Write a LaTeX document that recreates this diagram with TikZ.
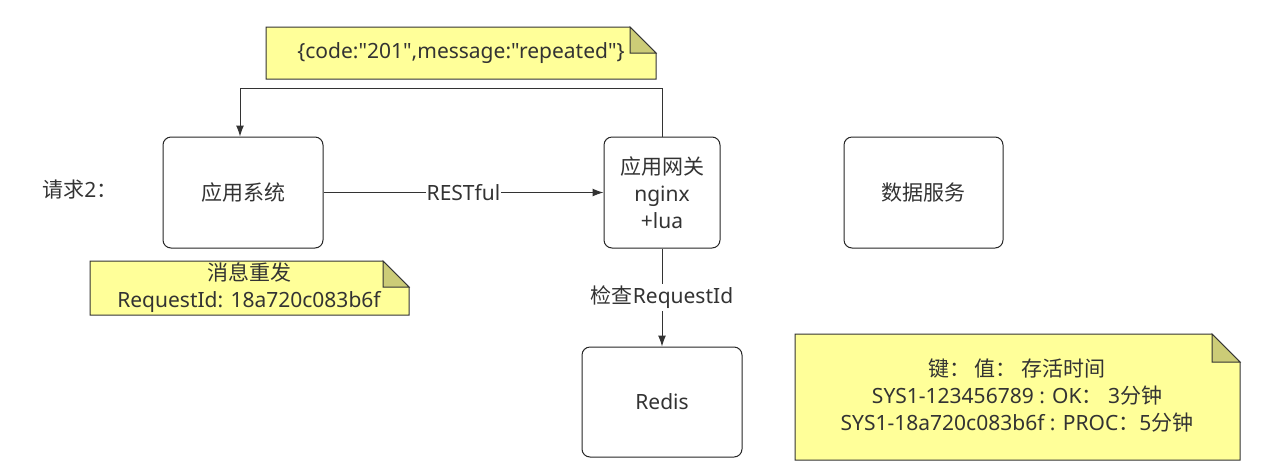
\documentclass[tikz,border=0pt]{standalone}
\usepackage{fontspec}
\newfontfamily\lat{Noto Sans}
\newfontfamily\cj{Noto Sans CJK SC}
\usetikzlibrary{arrows.meta}
\begin{document}
\begin{tikzpicture}[x=1pt,y=-1pt,
  font=\lat\fontsize{21}{27}\selectfont,
  every node/.style={text=black!80},
  boxnode/.style={draw=black!85,line width=1pt,rounded corners=8pt,fill=white,align=center,inner sep=0pt},
  notetext/.style={align=center,inner sep=0pt},
  notebody/.style={draw=black!80,line width=1pt,fill={rgb,255:red,255;green,255;blue,153}},
  notefold/.style={draw=black!80,line width=1pt,fill={rgb,255:red,204;green,204;blue,119},line join=miter},
  conn/.style={draw=black!80,line width=1pt,-{Latex[length=11pt,width=8pt]}}]
\useasboundingbox (0,0) rectangle (1269,475);
% notes
\newcommand{\dognote}[5]{% x0 y0 x1 y1 f
  \path[notebody] (#1,#2) -- (#3-#5,#2) -- (#3,#2+#5) -- (#3,#4) -- (#1,#4) -- cycle;
  \path[notefold] (#3-#5,#2) -- (#3-#5,#2+#5) -- (#3,#2+#5) -- cycle;}
\dognote{266}{27}{656}{79}{26}
\dognote{90}{261}{409}{315}{26}
\dognote{795}{334}{1240}{460}{28}
\node[notetext] (n1) at (461,53) {\{code:"201",message:"repeated"\}};
\node[notetext] (n2) at (249,288) {{\cj 消息重发}\\RequestId: 18a720c083b6f};
\node[notetext] (n3) at (1017,396) {{\cj 键： 值： 存活时间}\\SYS1-123456789 : OK{\cj ：} 3{\cj 分钟}\\SYS1-18a720c083b6f : PROC{\cj ：}5{\cj 分钟}};
% boxes
\node[boxnode,minimum width=160pt,minimum height=111pt] (app) at (243,192.5) {\cj 应用系统};
\node[boxnode,minimum width=116pt,minimum height=111pt] (gw) at (662,192.5) {{\cj 应用网关}\\nginx\\+lua};
\node[boxnode,minimum width=159pt,minimum height=111pt] (data) at (923.5,192.5) {\cj 数据服务};
\node[boxnode,minimum width=160pt,minimum height=110pt] (redis) at (662,402) {Redis};
\node[inner sep=0pt] (req) at (80,190) {{\cj 请求}2{\cj ：}};
% connectors
\draw[conn] (app.east) -- node[fill=white,inner sep=1pt] (lbl1) {RESTful} (gw.west);
\coordinate (c1) at (gw.north |- 0,88);
\coordinate (c2) at (240,88);
\draw[conn] (gw.north) -- (c1) -- (c2) -- (c2 |- app.north);
\draw[conn] (gw.south) -- node[fill=white,inner sep=2pt,pos=0.5] (lbl2) {{\cj 检查}RequestId} (redis.north);
\end{tikzpicture}
\end{document}
